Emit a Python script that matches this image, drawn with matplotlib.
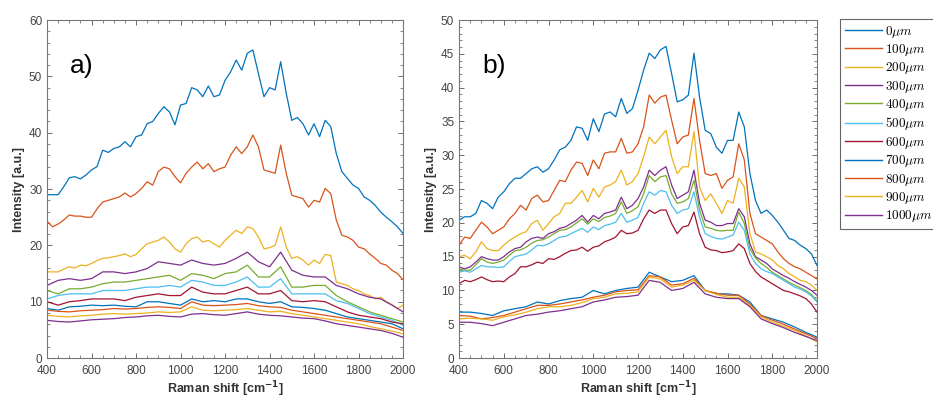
import numpy as np
import matplotlib.pyplot as plt
from matplotlib.ticker import MultipleLocator

# Raman shift grids [cm^-1]
x_fine = np.arange(400, 2001, 25)
x_coarse = np.arange(400, 2001, 50)

labels = ['0', '100', '200', '300', '400', '500', '600', '700', '800', '900', '1000']

# MATLAB default colour order
colors = ['#0072BD', '#D95319', '#EDB120', '#7E2F8E', '#77AC30', '#4DBEEE', '#A2142F',
          '#0072BD', '#D95319', '#EDB120', '#7E2F8E']

# ---- panel a) (values read from the figure) ----
a_0um = [29.0, 29.0, 29.0, 30.4, 32.0, 32.2, 31.8, 32.5, 33.4, 34.0, 36.9, 36.5, 37.2, 37.5, 38.4, 37.5,
         39.3, 39.6, 41.6, 42.0, 43.4, 44.6, 43.7, 41.4, 44.9, 45.2, 48.0, 47.6, 46.4, 48.3, 46.4, 46.7,
         49.3, 50.8, 52.9, 51.1, 54.1, 54.7, 50.5, 46.4, 48.0, 47.6, 52.6, 47.0, 42.2, 42.7, 41.6, 39.6,
         41.6, 39.3, 42.2, 41.1, 36.3, 33.1, 31.9, 30.7, 30.1, 28.6, 28.0, 27.1, 25.9, 25.0, 24.2, 23.3, 22.1]
a_100um = [24.3, 23.3, 23.8, 24.5, 25.4, 25.2, 25.2, 25.0, 25.0, 26.5, 27.7, 28.0, 28.3, 28.6, 29.3, 28.6,
           29.2, 30.1, 31.3, 30.7, 33.1, 33.9, 33.6, 32.2, 31.1, 32.8, 33.9, 34.8, 33.6, 34.5, 33.1, 33.6,
           33.9, 36.0, 37.5, 36.3, 37.5, 39.6, 37.5, 33.4, 33.1, 32.8, 37.8, 32.8, 28.9, 28.6, 28.3, 26.8,
           28.0, 27.7, 30.1, 29.2, 24.5, 21.8, 21.5, 20.9, 19.7, 19.4, 18.5, 17.7, 16.8, 16.5, 15.6, 15.0, 13.9]
a_200um = [15.3, 15.3, 15.3, 15.8, 16.2, 16.0, 16.5, 16.4, 16.8, 17.3, 17.7, 17.8, 18.0, 18.2, 18.5, 18.0,
           18.4, 19.4, 20.3, 20.6, 20.9, 21.5, 20.6, 19.4, 18.8, 20.3, 21.2, 21.5, 20.6, 20.9, 20.3, 19.7,
           20.9, 21.8, 22.7, 22.1, 23.3, 23.0, 21.5, 19.4, 19.6, 20.0, 23.3, 19.7, 17.7, 18.0, 17.4, 16.5,
           17.4, 16.8, 18.4, 18.2, 13.5, 13.2, 12.9, 12.3, 12.0, 11.4, 11.1, 10.5, 10.8, 10.0, 9.5, 8.8, 9.4]
a_300um = [12.9, 13.8, 14.1, 13.8, 14.1, 15.3, 15.3, 15.0, 15.3, 15.9, 17.1, 16.8, 16.5, 17.4, 16.8, 16.5, 16.8,
           17.7, 18.8, 17.1, 16.2, 18.8, 15.6, 14.7, 14.4, 14.4, 12.9, 12.3, 11.4, 10.8, 10.5, 9.4, 8.2]
a_400um = [12.0, 11.4, 12.3, 12.3, 12.6, 13.2, 13.5, 13.5, 13.8, 14.1, 14.4, 14.7, 13.8, 15.0, 14.7, 14.1, 15.0,
           15.3, 16.5, 14.4, 14.4, 16.2, 12.6, 12.6, 12.9, 12.9, 11.1, 10.0, 9.1, 8.2, 7.6, 7.0, 6.4]
a_500um = [10.5, 11.1, 11.4, 11.4, 11.4, 12.0, 12.0, 12.0, 12.3, 12.6, 12.6, 12.9, 12.6, 13.8, 13.5, 12.9, 12.9,
           13.5, 14.4, 12.6, 12.6, 14.1, 11.4, 11.4, 11.4, 11.4, 10.2, 9.7, 8.8, 7.9, 7.3, 6.7, 5.8]
a_600um = [10.0, 9.4, 10.0, 10.2, 10.5, 10.5, 10.5, 10.2, 10.8, 11.1, 11.4, 11.1, 11.1, 12.6, 11.7, 11.4, 11.4,
           12.0, 12.6, 11.4, 11.4, 12.0, 10.2, 10.0, 10.2, 10.0, 9.1, 8.2, 7.6, 7.3, 7.0, 6.4, 6.1]
a_700um = [8.8, 8.5, 9.1, 9.2, 9.4, 9.3, 9.4, 9.2, 9.1, 10.0, 10.0, 9.7, 9.4, 10.5, 10.0, 10.2, 10.0,
           10.5, 10.5, 10.0, 9.7, 10.0, 9.1, 9.0, 8.8, 8.5, 7.9, 7.3, 7.0, 6.7, 6.4, 6.1, 5.2]
a_800um = [8.5, 8.3, 8.2, 8.4, 8.5, 8.6, 8.8, 8.7, 8.8, 9.0, 9.1, 9.0, 8.8, 10.0, 9.4, 9.3, 9.4,
           9.5, 9.7, 9.3, 9.1, 9.0, 8.5, 8.2, 7.9, 7.6, 7.3, 7.0, 6.7, 6.4, 6.1, 5.5, 4.9]
a_900um = [7.6, 7.4, 7.3, 7.5, 7.6, 7.8, 7.9, 7.8, 7.9, 8.0, 8.2, 8.1, 8.2, 9.1, 8.5, 8.4, 8.5,
           8.6, 8.8, 8.5, 8.2, 8.3, 7.9, 7.6, 7.3, 7.0, 6.7, 6.4, 6.1, 5.6, 5.2, 4.8, 4.3]
a_1000um = [6.7, 6.5, 6.4, 6.6, 6.8, 6.9, 7.0, 7.2, 7.3, 7.5, 7.6, 7.4, 7.3, 7.8, 7.9, 7.7, 7.6,
            7.9, 8.2, 7.8, 7.6, 7.5, 7.3, 7.1, 7.0, 6.6, 6.1, 5.8, 5.5, 5.2, 4.9, 4.4, 3.7]

# ---- panel b) ----
b_0um = [20.4, 20.9, 20.9, 21.4, 23.3, 22.9, 22.1, 23.8, 24.6, 25.8, 26.6, 26.6, 27.3, 28.0, 28.3, 27.5,
         28.0, 29.3, 30.8, 31.2, 32.2, 34.2, 34.0, 32.2, 35.4, 33.5, 36.1, 36.4, 35.7, 38.4, 36.2, 36.9,
         39.6, 42.6, 45.1, 44.3, 45.6, 46.1, 42.1, 37.9, 38.2, 38.9, 45.1, 38.6, 33.7, 33.2, 31.2, 30.3,
         32.2, 32.2, 36.4, 34.2, 27.3, 23.3, 21.4, 21.9, 21.1, 20.1, 18.9, 17.7, 17.4, 16.7, 16.2, 15.4, 13.7]
b_100um = [16.7, 17.9, 17.7, 18.9, 20.1, 19.4, 18.4, 18.9, 19.4, 20.6, 21.4, 22.6, 21.9, 23.6, 24.1, 23.1,
           23.3, 24.8, 26.3, 26.1, 27.8, 29.0, 28.8, 27.0, 29.3, 28.0, 30.3, 30.5, 30.5, 32.5, 30.3, 30.5,
           31.7, 34.2, 38.9, 37.7, 38.6, 38.9, 35.2, 31.7, 32.7, 33.0, 38.4, 32.2, 27.3, 27.0, 27.3, 25.1,
           26.3, 26.8, 31.7, 29.3, 21.4, 18.4, 17.9, 17.4, 16.9, 15.7, 14.7, 14.0, 13.5, 13.2, 12.7, 12.2, 11.7]
b_200um = [15.0, 15.2, 14.7, 15.7, 17.2, 16.2, 15.9, 15.9, 16.7, 17.4, 17.9, 18.4, 18.7, 19.9, 20.4, 18.9,
           19.9, 20.9, 21.4, 22.9, 22.9, 23.8, 24.8, 23.1, 25.1, 23.8, 25.3, 25.6, 26.1, 27.8, 25.6, 26.1,
           27.3, 29.8, 32.7, 31.7, 32.7, 33.7, 29.8, 27.3, 28.3, 28.3, 33.5, 25.3, 23.3, 24.3, 22.9, 21.4,
           23.3, 22.9, 26.6, 25.3, 18.4, 15.7, 15.4, 15.0, 14.5, 13.7, 13.2, 12.5, 12.0, 11.5, 11.3, 10.8, 10.0]
b_300um = [13.5, 13.2, 13.5, 14.2, 15.0, 14.7, 14.5, 14.5, 15.0, 15.7, 16.2, 16.4, 17.2, 17.7, 17.9, 17.7,
           18.4, 18.7, 19.2, 19.4, 19.9, 20.4, 21.1, 20.1, 21.1, 20.6, 21.4, 21.6, 21.9, 23.8, 22.1, 22.6,
           23.6, 25.3, 27.8, 27.0, 27.8, 28.3, 25.6, 23.6, 24.1, 24.6, 27.8, 22.9, 20.4, 20.1, 19.6, 19.6,
           19.9, 19.9, 22.1, 20.9, 16.9, 15.0, 14.5, 14.0, 13.2, 12.7, 12.2, 11.8, 11.3, 10.9, 10.5, 10.0, 9.3]
b_400um = [13.2, 13.0, 13.0, 13.8, 14.7, 14.2, 14.0, 14.2, 14.5, 15.2, 15.9, 16.0, 16.4, 17.0, 17.4, 17.5,
           17.9, 18.4, 18.9, 19.0, 19.4, 20.0, 20.6, 19.8, 20.6, 20.2, 20.8, 21.0, 21.4, 23.1, 21.4, 21.8,
           22.4, 24.3, 27.0, 26.1, 26.8, 27.0, 24.3, 22.9, 23.1, 23.6, 26.3, 21.9, 19.4, 19.2, 18.9, 18.8,
           18.9, 18.9, 21.6, 19.9, 16.2, 14.8, 14.0, 13.4, 12.7, 12.2, 11.7, 11.2, 10.8, 10.4, 10.0, 9.4, 8.5]
b_500um = [12.7, 12.9, 12.7, 13.2, 13.7, 13.5, 13.5, 13.4, 13.5, 14.3, 15.0, 15.2, 15.4, 16.0, 16.7, 16.6,
           16.9, 17.4, 17.9, 18.0, 18.4, 18.8, 19.2, 18.6, 19.4, 19.0, 19.6, 19.8, 20.1, 21.4, 20.1, 20.4,
           20.8, 22.9, 24.6, 24.1, 24.8, 24.6, 22.6, 21.4, 21.9, 22.1, 24.6, 20.8, 18.4, 18.0, 17.7, 17.6,
           17.9, 18.2, 20.1, 18.9, 15.4, 14.0, 13.2, 12.8, 12.5, 12.0, 11.5, 11.0, 10.5, 10.2, 9.8, 9.2, 8.3]
b_600um = [11.0, 11.5, 11.3, 11.6, 12.0, 11.6, 11.3, 11.4, 11.3, 12.0, 12.5, 13.5, 13.5, 13.8, 14.2, 14.0,
           14.7, 14.6, 15.0, 15.5, 15.9, 16.0, 16.4, 15.8, 16.4, 16.6, 17.2, 17.5, 17.9, 18.9, 18.4, 18.5,
           18.9, 20.6, 21.9, 21.4, 21.9, 21.9, 19.9, 18.4, 19.4, 19.6, 21.6, 18.4, 16.4, 16.0, 15.9, 15.6,
           15.7, 15.9, 16.9, 16.2, 14.0, 12.8, 12.0, 11.5, 11.0, 10.5, 10.0, 9.8, 9.5, 9.2, 8.8, 8.0, 6.8]
b_700um = [6.8, 6.8, 6.6, 6.3, 7.0, 7.3, 7.6, 8.3, 8.0, 8.5, 8.8, 9.0, 10.0, 9.5, 10.0, 10.3, 10.5,
           12.7, 12.0, 11.3, 11.5, 12.2, 10.0, 9.5, 9.5, 9.3, 8.3, 6.3, 5.8, 5.3, 4.6, 3.8, 3.1]
b_800um = [6.3, 6.2, 5.8, 6.0, 6.3, 6.8, 7.3, 7.8, 7.8, 8.0, 8.3, 8.6, 9.0, 9.3, 9.8, 10.0, 10.1,
           12.2, 12.0, 10.8, 11.0, 11.8, 10.0, 9.6, 9.3, 9.3, 8.0, 6.3, 5.6, 5.0, 4.3, 3.6, 2.9]
b_900um = [5.8, 5.9, 5.8, 5.6, 6.1, 6.4, 6.8, 7.3, 7.6, 7.6, 7.8, 8.2, 8.8, 9.0, 9.5, 9.6, 9.8,
           12.0, 11.7, 10.5, 10.8, 11.5, 10.0, 9.4, 9.0, 9.0, 7.8, 6.1, 5.3, 4.7, 4.1, 3.3, 2.4]
b_1000um = [5.3, 5.3, 5.1, 4.8, 5.3, 5.8, 6.3, 6.5, 6.8, 7.0, 7.3, 7.6, 8.3, 8.6, 9.0, 9.1, 9.3,
            11.5, 11.2, 10.0, 10.3, 11.2, 9.5, 9.0, 8.8, 8.8, 7.6, 5.8, 5.1, 4.5, 3.8, 3.2, 2.6]

panel_a = [a_0um, a_100um, a_200um, a_300um, a_400um, a_500um, a_600um,
           a_700um, a_800um, a_900um, a_1000um]
panel_b = [b_0um, b_100um, b_200um, b_300um, b_400um, b_500um, b_600um,
           b_700um, b_800um, b_900um, b_1000um]

AX_COLOR = '#555555'


def grid_for(y):
    return x_fine if len(y) == len(x_fine) else x_coarse


def style_axes(ax, ymax, ymajor, yminor):
    ax.set_xlim(400, 2000)
    ax.set_ylim(0, ymax)
    ax.xaxis.set_major_locator(MultipleLocator(200))
    ax.xaxis.set_minor_locator(MultipleLocator(50))
    ax.yaxis.set_major_locator(MultipleLocator(ymajor))
    ax.yaxis.set_minor_locator(MultipleLocator(yminor))
    ax.tick_params(which='both', direction='in', top=True, right=True, colors=AX_COLOR,
                   labelsize=8.5, labelcolor='#444444')
    ax.tick_params(which='major', length=3.5, width=0.6)
    ax.tick_params(which='minor', length=2, width=0.5)
    ax.tick_params(axis='x', pad=5)
    for sp in ax.spines.values():
        sp.set_color('#777777')
        sp.set_linewidth(0.8)
    for lab in ax.get_xticklabels() + ax.get_yticklabels():
        lab.set_fontfamily('Liberation Sans')
    ax.set_xlabel(r'Raman shift [cm$^{\mathbf{-1}}$]', fontsize=9, fontweight='bold',
                  fontfamily='Liberation Sans', color='#333333', labelpad=2)
    ax.set_ylabel('Intensity [a.u.]', fontsize=9, fontweight='bold',
                  fontfamily='Liberation Sans', color='#333333', labelpad=3)


fig = plt.figure(figsize=(9.33, 4.01), dpi=100)
ax_a = fig.add_axes([0.0504, 0.107, 0.3816, 0.843])
ax_b = fig.add_axes([0.4920, 0.107, 0.3837, 0.843])

for y, c, lab in zip(panel_a, colors, labels):
    ax_a.plot(grid_for(y), y, color=c, lw=0.9, label=lab)
for y, c, lab in zip(panel_b, colors, labels):
    ax_b.plot(grid_for(y), y, color=c, lw=0.9, label=lab)

style_axes(ax_a, 60, 10, 2)
style_axes(ax_b, 50, 5, 1)

ax_a.text(0.065, 0.865, 'a)', transform=ax_a.transAxes, fontsize=19,
          fontfamily='Liberation Sans', va='center')
ax_b.text(0.065, 0.865, 'b)', transform=ax_b.transAxes, fontsize=19,
          fontfamily='Liberation Sans', va='center')

handles, _ = ax_b.get_legend_handles_labels()
leg = fig.legend(handles, [r'$%s\mu m$' % l for l in labels], loc='upper left',
                 bbox_to_anchor=(840 / 933, 1 - 19 / 401), fancybox=False, framealpha=1,
                 edgecolor='#666666', fontsize=9.5, handlelength=2.8, handletextpad=0.25,
                 labelspacing=0.18, borderpad=0.35, borderaxespad=0)
leg.get_frame().set_linewidth(0.8)
for t in leg.get_texts():
    t.set_math_fontfamily('cm')
for lh in leg.get_lines():
    lh.set_linewidth(1.0)

fig.savefig('out.png', dpi=100)
